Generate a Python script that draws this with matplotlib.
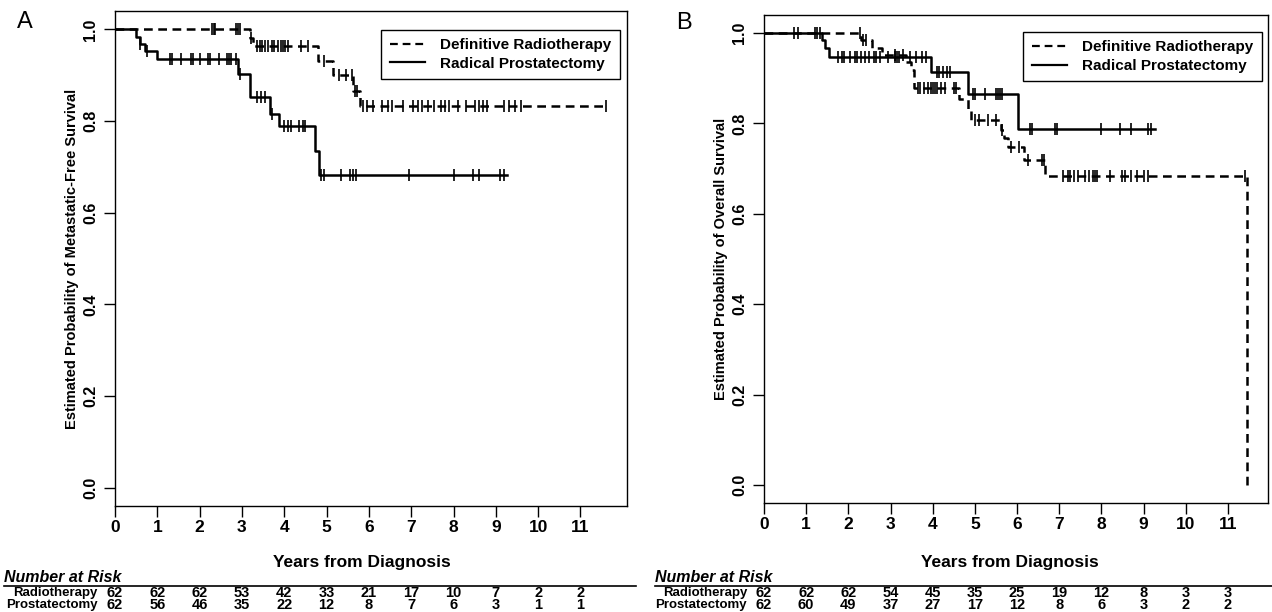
import matplotlib
matplotlib.use('Agg')
import matplotlib.pyplot as plt
import matplotlib.transforms as mtransforms
from matplotlib.lines import Line2D
import numpy as np

W, H = 1272, 612
plt.rcParams['font.family'] = ['Liberation Sans', 'DejaVu Sans']
NARROW = ['Liberation Sans Narrow', 'Liberation Sans', 'DejaVu Sans']

# ---- panel A: metastatic-free survival ----
a_rt_times = [0, 3.2, 3.25, 4.8, 5.15, 5.62, 5.78]
a_rt_surv = [1.0, 0.981, 0.963, 0.932, 0.90, 0.865, 0.832]
a_rt_censor = [2.3, 2.33, 2.36, 2.85, 2.9, 2.95, 3.22, 3.35, 3.42, 3.48, 3.55, 3.62,
               3.7, 3.75, 3.85, 3.92, 3.97, 4.02, 4.08, 4.4, 4.55, 4.95, 5.3, 5.45,
               5.6, 5.68, 5.72, 5.85, 5.95, 6.1, 6.3, 6.45, 6.55, 6.8, 7.05, 7.15,
               7.25, 7.4, 7.55, 7.7, 7.8, 7.9, 8.1, 8.3, 8.5, 8.6, 8.7, 8.8, 9.2,
               9.3, 9.45, 9.6, 11.6]
a_rt_end = 11.6

a_rp_times = [0, 0.5, 0.58, 0.7, 1.0, 2.9, 3.18, 3.67, 3.88, 4.73, 4.83]
a_rp_surv = [1.0, 0.984, 0.968, 0.952, 0.935, 0.903, 0.852, 0.815, 0.79, 0.735, 0.683]
a_rp_censor = [0.6, 0.75, 1.3, 1.35, 1.55, 1.8, 1.85, 2.0, 2.2, 2.25, 2.45, 2.65,
               2.7, 2.75, 2.85, 2.95, 3.35, 3.45, 3.55, 3.7, 4.0, 4.1, 4.15, 4.35,
               4.45, 4.5, 4.88, 4.93, 5.35, 5.55, 5.62, 5.7, 6.95, 8.0, 8.45, 8.6,
               9.1, 9.2]
a_rp_end = 9.27

# ---- panel B: overall survival ----
b_rt_times = [0, 2.3, 2.55, 2.8, 3.36, 3.48, 3.55, 4.62, 4.83, 4.9, 5.62, 5.7,
              5.79, 6.17, 6.67, 11.45]
b_rt_surv = [1.0, 0.984, 0.968, 0.952, 0.935, 0.918, 0.878, 0.853, 0.83, 0.807,
             0.785, 0.768, 0.748, 0.72, 0.683, 0.0]
b_rt_censor = [2.27, 2.35, 2.42, 3.1, 3.3, 3.65, 3.7, 3.8, 3.9, 3.95, 4.0, 4.05,
               4.1, 4.2, 4.3, 4.5, 4.55, 5.0, 5.1, 5.3, 5.5, 5.65, 5.85, 6.05,
               6.25, 6.6, 6.65, 7.1, 7.2, 7.25, 7.35, 7.45, 7.6, 7.7, 7.8, 7.85,
               7.9, 8.2, 8.5, 8.55, 8.7, 8.85, 9.0, 9.1, 11.4]
b_rt_end = 11.45

b_rp_times = [0, 1.37, 1.45, 1.53, 3.95, 4.83, 6.02]
b_rp_surv = [1.0, 0.984, 0.966, 0.948, 0.913, 0.866, 0.787]
b_rp_censor = [0.7, 0.8, 1.2, 1.25, 1.33, 1.75, 1.85, 1.9, 2.05, 2.15, 2.2, 2.3,
               2.4, 2.5, 2.6, 2.65, 2.75, 2.95, 3.1, 3.15, 3.2, 3.45, 3.6, 3.75,
               3.85, 4.1, 4.15, 4.25, 4.35, 4.4, 4.95, 5.0, 5.25, 5.5, 5.55, 5.6,
               5.65, 6.3, 6.35, 6.9, 6.95, 8.0, 8.45, 8.7, 9.1, 9.17]
b_rp_end = 9.27

# ---- number at risk ----
risk_years = list(range(12))
a_risk_rt = [62, 62, 62, 53, 42, 33, 21, 17, 10, 7, 2, 2]
a_risk_rp = [62, 56, 46, 35, 22, 12, 8, 7, 6, 3, 1, 1]
b_risk_rt = [62, 62, 62, 54, 45, 35, 25, 19, 12, 8, 3, 3]
b_risk_rp = [62, 60, 49, 37, 27, 17, 12, 8, 6, 3, 2, 2]

legend_labels = ['Definitive Radiotherapy', 'Radical Prostatectomy']
DASH = (0, (3.5, 2.2))


def box(l, t, r, b):
    return [l / W, 1 - b / H, (r - l) / W, (b - t) / H]


def km(ax, times, surv, censor, end, ls):
    t = np.append(times, end)
    s = np.append(surv, surv[-1])
    ax.step(t, s, where='post', color='black', lw=1.8, linestyle=ls)
    idx = np.searchsorted(times, censor, side='right') - 1
    ax.plot(censor, np.array(surv)[idx], linestyle='none', marker='|', ms=9,
            mew=1.2, color='black')


def panel(ax, xmax, ylabel, curves, leg_anchor):
    for c in curves:
        km(ax, *c)
    ax.set_xlim(0, xmax)
    ax.set_ylim(-0.04, 1.04)
    ax.set_xticks(range(12))
    ax.set_yticks([0, 0.2, 0.4, 0.6, 0.8, 1.0])
    ax.set_yticklabels(['0.0', '0.2', '0.4', '0.6', '0.8', '1.0'], rotation=90,
                       va='center', family=NARROW, fontweight='bold', fontsize=11.5)
    ax.set_xticklabels([str(i) for i in range(12)], family=NARROW,
                       fontweight='bold', fontsize=12.5)
    ax.tick_params(direction='out', length=8, width=1.0, pad=4)
    ax.tick_params(axis='x', pad=2)
    for sp in ax.spines.values():
        sp.set_linewidth(1.0)
    ax.set_ylabel(ylabel, family=NARROW, fontweight='bold', fontsize=10.5, labelpad=3)
    handles = [Line2D([], [], color='black', lw=1.6, linestyle=DASH),
               Line2D([], [], color='black', lw=1.6)]
    leg = ax.legend(handles, legend_labels, loc='upper right', bbox_to_anchor=leg_anchor,
                    borderaxespad=0, fancybox=False, edgecolor='black', framealpha=1,
                    prop={'weight': 'bold', 'size': 11}, handlelength=2.3,
                    borderpad=0.55, labelspacing=0.3, handletextpad=1.0)
    leg.get_frame().set_linewidth(1.0)


fig = plt.figure(figsize=(W / 100, H / 100), dpi=100)
axA = fig.add_axes(box(115, 11, 627, 506))
axB = fig.add_axes(box(764, 15, 1268, 503))

panel(axA, 12.1, 'Estimated Probability of Metastatic-Free Survival',
      [(a_rt_times, a_rt_surv, a_rt_censor, a_rt_end, DASH),
       (a_rp_times, a_rp_surv, a_rp_censor, a_rp_end, '-')], (0.986, 0.962))
panel(axB, 11.95, 'Estimated Probability of Overall Survival',
      [(b_rt_times, b_rt_surv, b_rt_censor, b_rt_end, DASH),
       (b_rp_times, b_rp_surv, b_rp_censor, b_rp_end, '-')], (0.988, 0.965))

fig.text(25 / W, 1 - 22 / H, 'A', fontsize=17, ha='center', va='center')
fig.text(684 / W, 1 - 23 / H, 'B', fontsize=17, ha='center', va='center')

for ax, x0, x1, lab_r, xlab, rt, rp in [
        (axA, 4, 636, 98, 362, a_risk_rt, a_risk_rp),
        (axB, 655, 1272, 747, 1010, b_risk_rt, b_risk_rp)]:
    fig.text(xlab / W, 1 - 562 / H, 'Years from Diagnosis', family=NARROW,
             fontweight='bold', fontsize=12.5, ha='center', va='center')
    fig.text(x0 / W, 1 - 577 / H, 'Number at Risk', family=NARROW, fontweight='bold',
             style='italic', fontsize=11.5, ha='left', va='center')
    fig.add_artist(Line2D([x0 / W, x1 / W], [1 - 586 / H, 1 - 586 / H],
                          color='black', lw=1.2))
    fig.text(lab_r / W, 1 - 593 / H, 'Radiotherapy', family=NARROW,
             fontweight='bold', fontsize=9.5, ha='right', va='center')
    fig.text(lab_r / W, 1 - 605 / H, 'Prostatectomy', family=NARROW,
             fontweight='bold', fontsize=9.5, ha='right', va='center')
    trans = mtransforms.blended_transform_factory(ax.transData, fig.transFigure)
    for yr, n1, n2 in zip(risk_years, rt, rp):
        ax.text(yr, 1 - 593 / H, str(n1), transform=trans, family=NARROW,
                fontweight='bold', fontsize=10.5, ha='center', va='center')
        ax.text(yr, 1 - 605 / H, str(n2), transform=trans, family=NARROW,
                fontweight='bold', fontsize=10.5, ha='center', va='center')

fig.savefig('out.png', dpi=100)
